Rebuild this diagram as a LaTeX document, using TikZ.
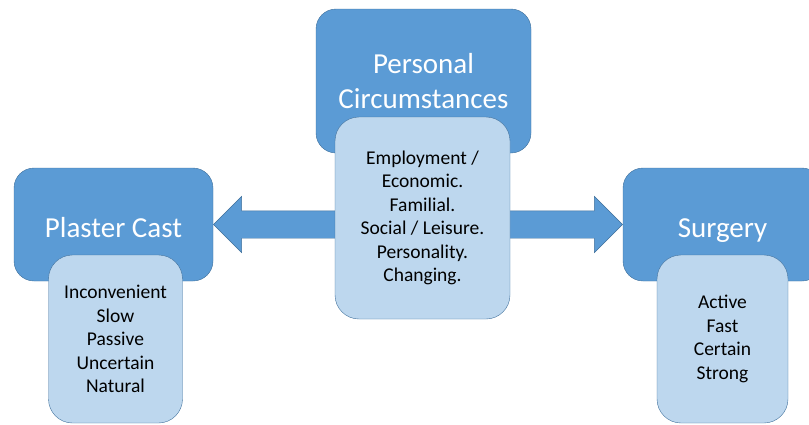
\documentclass[tikz,border=0pt]{standalone}
\usepackage{fontspec}
\setmainfont{Carlito}
\usepackage{tikz}
\usetikzlibrary{shapes.arrows, positioning}
\definecolor{accent}{HTML}{5B9BD5}
\definecolor{accentline}{HTML}{41719C}
\definecolor{pale}{HTML}{BDD7EE}
\tikzset{
	heading/.style={
		shape=rectangle,
		fill=accent,
		draw=accentline,
		rounded corners=20pt,
		minimum height=113pt,
		minimum width=199pt,
		text=white,
		align=center,
		font=\fontsize{29}{35}\selectfont
	},
	oneline/.style={
		text height=25pt,
		text depth=0pt
	},
	details/.style={
		shape=rectangle,
		fill=pale,
		draw=accentline,
		rounded corners=24pt,
		minimum width=134pt,
		minimum height=168pt,
		align=center,
		font=\fontsize{19.5}{23.5}\selectfont
	},
	flow/.style={
		shape=single arrow,
		fill=accent,
		draw=accentline,
		minimum height=125pt,
		single arrow head extend=14.5pt,
		inner xsep=0pt,
		inner ysep=13.5pt
	}
}
\begin{document}
\begin{tikzpicture}[x=1pt,y=-1pt]
	\useasboundingbox (0,0) rectangle (809,424);
	
	\node[heading, minimum width=215pt, minimum height=144pt] (circ) at (423.5,81) {Personal\\Circumstances};
	\node[heading, oneline] (cast) at (113.5,224.5) {Plaster Cast};
	\node[heading, oneline] (surgery) at (722.5,224.5) {Surgery};
	
	\node[flow, shape border rotate=180, anchor=tip] (toCast) at (cast.east) {};
	\node[flow, anchor=tip] (toSurgery) at (surgery.west) {};
	
	\node[details, minimum width=175pt, minimum height=202pt] (circList) at (422.5,218) {Employment /\\Economic.\\Familial.\\Social / Leisure.\\Personality.\\Changing.};
	\node[details] (castList) at (115.5,339) {Inconvenient\\Slow\\Passive\\Uncertain\\Natural};
	\node[details, minimum width=131pt] (surgeryList) at (722.5,339) {Active\\Fast\\Certain\\Strong};
	
\end{tikzpicture}
\end{document}
